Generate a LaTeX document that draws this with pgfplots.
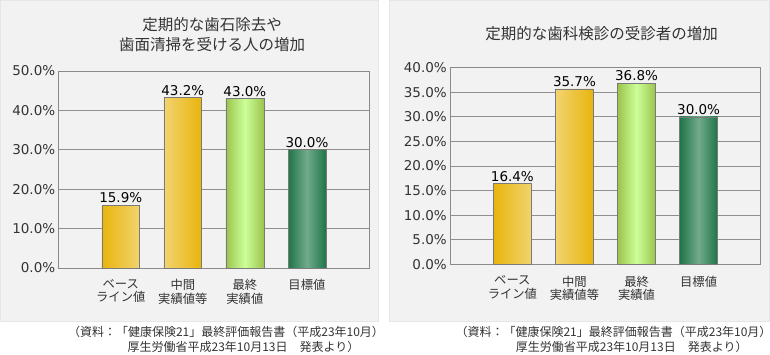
\documentclass[border=0pt]{standalone}
\usepackage{fontspec}
\setmainfont{DejaVu Sans}
\newfontfamily\cjk{Noto Sans CJK JP}
\usepackage{pgfplots}
\pgfplotsset{compat=1.18}
\definecolor{bgc}{HTML}{F2F2F2}
\definecolor{bgedge}{HTML}{E6E6E6}
\definecolor{txt}{HTML}{333333}
\definecolor{gridc}{HTML}{8F8F8F}
\definecolor{axisc}{HTML}{8A8A8A}
\definecolor{bardraw}{HTML}{7A7A7A}
\definecolor{yedge}{HTML}{E8B40C}
\definecolor{ymid}{HTML}{F5DE90}
\definecolor{gedge}{HTML}{9CC44C}
\definecolor{gmid}{HTML}{CCFF99}
\definecolor{dedge}{HTML}{1F7548}
\definecolor{dmid}{HTML}{72AA8C}
\pgfplotsset{
  mybars/.style={
    scale only axis,
    xmin=0, xmax=5, ymin=0,
    xtick={1,2,3,4},
    xticklabels={{ベース\\ライン値},{中間\\実績値等},{最終\\実績値},{目標値}},
    axis line style={draw=axisc, line width=0.8bp},
    ymajorgrids, grid style={draw=gridc, line width=0.8bp},
    major tick length=0pt,
    clip=false,
    /pgf/number format/assume math mode=true,
    yticklabel={\pgfmathprintnumber[fixed,fixed zerofill,precision=1]{\tick}\%},
    yticklabel style={font=\fontsize{13.5bp}{16bp}\selectfont, text=txt},
    xticklabel style={font=\cjk\fontsize{12.3bp}{13.5bp}\selectfont, align=center, text=txt, yshift=-8bp},
    nodes near coords={\pgfmathprintnumber[fixed,fixed zerofill,precision=1]{\pgfplotspointmeta}\%},
    every node near coord/.append style={font=\fontsize{13.5bp}{16bp}\selectfont, text=black, inner sep=2bp},
  },
  barstyle/.style={ybar, bar width=0.61, bar shift=0pt, draw=bardraw, line width=0.6bp},
}
\begin{document}
\begin{tikzpicture}[x=1bp,y=1bp]
\path[use as bounding box] (0,0) rectangle (770,354);
\fill[bgc, draw=bgedge] (0.5,33) rectangle (378,353.5);
\fill[bgc, draw=bgedge] (389,33) rectangle (769.5,353.5);
\node[font=\cjk\fontsize{15.5bp}{20bp}\selectfont, align=center, text=txt] at (212,319) {定期的な歯石除去や\\歯面清掃を受ける人の増加};
\node[font=\cjk\fontsize{15.5bp}{20bp}\selectfont, align=center, text=txt] at (601.7,320) {定期的な歯科検診の受診者の増加};
\node[font=\cjk\fontsize{12bp}{14bp}\selectfont, text=txt, inner sep=0pt] at (226,22) {（資料：「健康保険21」最終評価報告書（平成23年10月）};
\node[font=\cjk\fontsize{12bp}{14bp}\selectfont, text=txt, inner sep=0pt] at (243.5,7) {厚生労働省平成23年10月13日　発表より）};
\node[font=\cjk\fontsize{12bp}{14bp}\selectfont, text=txt, inner sep=0pt] at (613.5,22) {（資料：「健康保険21」最終評価報告書（平成23年10月）};
\node[font=\cjk\fontsize{12bp}{14bp}\selectfont, text=txt, inner sep=0pt] at (631.7,7) {厚生労働省平成23年10月13日　発表より）};

\begin{axis}[mybars, at={(58.7bp,86bp)}, anchor=south west, width=310.3bp, height=197bp,
  ymax=50, ytick={0,10,...,50}]
\addplot[barstyle, left color=yedge, right color=yedge, middle color=ymid] coordinates {(1,15.9) (2,43.2)};
\addplot[barstyle, left color=gedge, right color=gedge, middle color=gmid] coordinates {(3,43.0)};
\addplot[barstyle, left color=dedge, right color=dedge, middle color=dmid] coordinates {(4,30.0)};
\end{axis}

\begin{axis}[mybars, at={(450.3bp,89.7bp)}, anchor=south west, width=310.4bp, height=196.6bp,
  ymax=40, ytick={0,5,...,40}]
\addplot[barstyle, left color=yedge, right color=yedge, middle color=ymid] coordinates {(1,16.4) (2,35.7)};
\addplot[barstyle, left color=gedge, right color=gedge, middle color=gmid] coordinates {(3,36.8)};
\addplot[barstyle, left color=dedge, right color=dedge, middle color=dmid] coordinates {(4,30.0)};
\end{axis}
\end{tikzpicture}
\end{document}
